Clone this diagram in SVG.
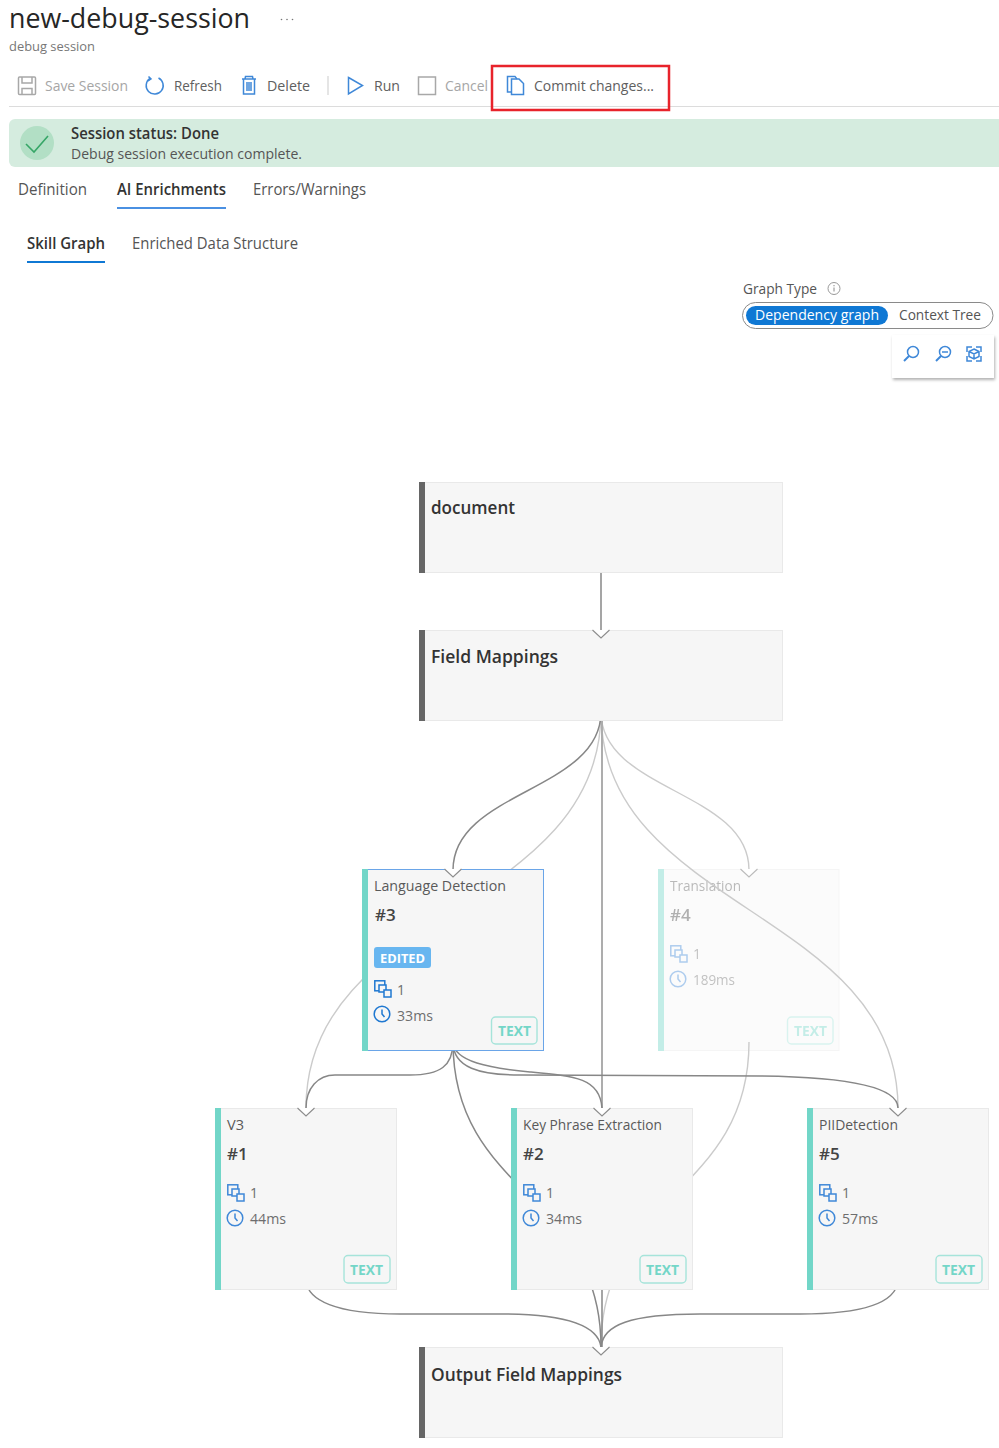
<svg xmlns="http://www.w3.org/2000/svg" width="999" height="1448" viewBox="0 0 999 1448">
<style>
text{font-family:"Open Sans","Noto Sans","Liberation Sans",sans-serif;fill:#555}
.tb{font-size:14.5px;fill:#606060}
.dis{fill:#a6a6a6}
.sem{font-weight:600;fill:#333}
.big{font-size:18px;font-weight:600;fill:#333}
.name{font-size:15px;fill:#5a5a5a}
.num{font-size:17px;font-weight:600;fill:#444}
.stat{font-size:14px;fill:#6e6e6e}
.tag{font-size:14px;font-weight:700;fill:#74d6c8}
.box{fill:#f6f6f6;stroke:#e9e9e9;stroke-width:1}
.bar{fill:#72d6c8}
.dbar{fill:#666}
.tagbox{fill:none;stroke:#a6e4da;stroke-width:1.4}
.ic{fill:none;stroke:#3f88d8;stroke-width:1.5}
.icg{fill:none;stroke:#a8a8a8;stroke-width:1.5}
.dk{fill:none;stroke:#878787;stroke-width:1.500}
.lt{fill:none;stroke:#cbcbcb;stroke-width:1.400}
.arr{fill:#fff;stroke:#8c8c8c;stroke-width:1.1}
</style>
<defs>
<g id="copies"><rect x="0.8" y="0.8" width="10" height="10" fill="none"/><rect x="5" y="5" width="7" height="7" fill="#f6f6f6"/><rect x="10" y="10" width="7" height="7" fill="#f6f6f6"/></g>
<g id="clock"><circle cx="8" cy="8" r="7.8" fill="none"/><path d="M8 3.5V8L10.5 11" fill="none"/></g>
<filter id="sh" x="-10%" y="-10%" width="120%" height="130%"><feDropShadow dx="1" dy="2" stdDeviation="1.5" flood-color="#000" flood-opacity=".3"/></filter>
<path id="ah" d="M-8.5 0L0 8L8.5 0"/>
</defs>
<rect width="999" height="1448" fill="#fff"/>

<g id="header">
<text x="9" y="28" font-size="27" style="fill:#262626" textLength="241" lengthAdjust="spacingAndGlyphs">new-debug-session</text>
<text x="9" y="51" font-size="13" style="fill:#777" textLength="86" lengthAdjust="spacingAndGlyphs">debug session</text>
<circle cx="281.500" cy="19.500" r=".8" fill="#777"/><circle cx="287" cy="19.500" r=".8" fill="#777"/><circle cx="292.500" cy="19.500" r=".8" fill="#777"/>
</g>

<g id="toolbar">
<g class="icg"><rect x="18.500" y="77" width="17" height="17.500" rx="1"/><path d="M22 77v6h10v-6M22 94.500v-6h10v6"/></g>
<text class="tb dis" x="45" y="91" textLength="83" lengthAdjust="spacingAndGlyphs">Save Session</text>
<g class="ic"><path d="M150 78.500A8.500 8.500 0 1 0 158.500 78"/><path d="M148.500 76.500L151 79L148 81"/></g>
<text class="tb" x="174" y="91" textLength="48" lengthAdjust="spacingAndGlyphs">Refresh</text>
<g class="ic"><path d="M242 79h14M245 79l.5-2.500h7l.5 2.500M243.500 79V94h11V79M247 82v9M249 82v9M251 82v9"/></g>
<text class="tb" x="267" y="91" textLength="43" lengthAdjust="spacingAndGlyphs">Delete</text>
<path d="M328 76V95" stroke="#ddd" stroke-width="1.5"/>
<path class="ic" d="M348.500 77.500L362.500 85.500L348.500 94Z"/>
<text class="tb" x="374" y="91" textLength="26" lengthAdjust="spacingAndGlyphs">Run</text>
<rect class="icg" x="418.500" y="77" width="17" height="17.500"/>
<text class="tb dis" x="445" y="91" textLength="43" lengthAdjust="spacingAndGlyphs">Cancel</text>
<g class="ic"><path d="M512 92H507.500V76.500H515L517 79"/><path d="M511.500 79H519L523.500 83.500V94.500H511.500Z"/></g>
<text class="tb" x="534" y="91" textLength="120" lengthAdjust="spacingAndGlyphs">Commit changes...</text>
<path d="M9 106.500H999" stroke="#dcdcdc" stroke-width="1"/>
<rect x="492" y="66" width="177" height="44" fill="none" stroke="#e8232b" stroke-width="2.500"/>
</g>

<g id="status">
<path d="M15 119H999V167H15A6 6 0 0 1 9 161V125A6 6 0 0 1 15 119Z" fill="#d5ecdf"/>
<circle cx="37" cy="143" r="17" fill="#b2dfc5"/>
<path d="M26 144L34 152L48 136" fill="none" stroke="#36a667" stroke-width="1.600"/>
<text class="sem" x="71" y="139" font-size="15.500" textLength="148" lengthAdjust="spacingAndGlyphs">Session status: Done</text>
<text x="71" y="159" font-size="15" textLength="231" lengthAdjust="spacingAndGlyphs">Debug session execution complete.</text>
</g>

<g id="tabs">
<text x="18" y="195" font-size="16" textLength="69" lengthAdjust="spacingAndGlyphs">Definition</text>
<text class="sem" x="117" y="195" font-size="16" textLength="109" lengthAdjust="spacingAndGlyphs">AI Enrichments</text>
<rect x="117" y="207" width="109" height="2" fill="#4a90e2"/>
<text x="253" y="195" font-size="16" textLength="113" lengthAdjust="spacingAndGlyphs">Errors/Warnings</text>
<text class="sem" x="27" y="249" font-size="16" textLength="78" lengthAdjust="spacingAndGlyphs">Skill Graph</text>
<rect x="27" y="261" width="78" height="2" fill="#0f78d4"/>
<text x="132" y="249" font-size="16" textLength="166" lengthAdjust="spacingAndGlyphs">Enriched Data Structure</text>
</g>

<g id="graph-controls">
<text x="743" y="294" font-size="15" textLength="74" lengthAdjust="spacingAndGlyphs">Graph Type</text>
<circle cx="834" cy="288.500" r="6" fill="none" stroke="#999" stroke-width="1"/><path d="M834 287.500v4M834 285v1.300" stroke="#888" stroke-width="1"/>
<rect x="742.500" y="302.500" width="250.500" height="26" rx="13" fill="#fff" stroke="#8a8a8a" stroke-width="1"/>
<rect x="746" y="306" width="142" height="19" rx="9.500" fill="#0f78d4"/>
<text x="755" y="320" font-size="15" style="fill:#fff" textLength="124" lengthAdjust="spacingAndGlyphs">Dependency graph</text>
<text x="899" y="320" font-size="15" textLength="82" lengthAdjust="spacingAndGlyphs">Context Tree</text>
<rect x="892" y="335" width="102" height="43" fill="#fff" filter="url(#sh)"/>
<g class="ic"><circle cx="913" cy="352" r="5.500"/><path d="M909 356L904 361" stroke-width="2"/><circle cx="945" cy="352" r="5.500"/><path d="M941 356L936 361" stroke-width="2"/><path d="M942 352h6"/><path d="M967 352v-5h5M976 347h5v5M981 356v5h-5M972 361h-5v-5"/><path d="M974 349l5 2.500v5l-5 2.500l-5-2.500v-5ZM969 351.500l5 2.500l5-2.500M974 354v5"/></g>
</g>

<g id="node-translation" opacity=".42">
<rect class="box" x="658.500" y="869.500" width="180.500" height="181"/><rect class="bar" x="658" y="869" width="6" height="182"/>
<text class="name" x="670" y="891" textLength="71" lengthAdjust="spacingAndGlyphs">Translation</text>
<text class="num" x="670" y="921">#4</text>
<use href="#copies" x="670" y="945" class="ic"/>
<text class="stat" x="693" y="959">1</text>
<use href="#clock" x="670" y="971" class="ic"/>
<text class="stat" x="693" y="985" textLength="42" lengthAdjust="spacingAndGlyphs">189ms</text>
<rect class="tagbox" x="787.500" y="1017" width="45.500" height="27" rx="4"/>
<text class="tag" x="794" y="1036" textLength="33" lengthAdjust="spacingAndGlyphs">TEXT</text>
</g>

<g id="connectors">
<path class="lt" d="M601 712C601 910 306 910 306 1108"/>
<path class="lt" d="M601 712C601 791 749 791 749 870"/>
<path class="lt" d="M601 712C601 910 898 910 898 1108"/>
<path class="lt" d="M749 1042C749 1194.500 601 1194.500 601 1347"/>
<path d="M602 712V1108" fill="none" stroke="#adadad" stroke-width="2"/>
<path class="dk" d="M601 712C601 791 453 791 453 870"/>
<path class="dk" d="M601 573V630"/>
<path class="dk" d="M453 1042C453 1066 440 1075 410 1075L335 1075C318 1075 306 1088 306 1108"/>
<path class="dk" d="M453 1042C454 1062 490 1068 530 1072C575 1076 600 1078 602 1108"/>
<path class="dk" d="M453 1042C453 1068 480 1075 520 1075L760 1076C840 1077 898 1085 898 1108"/>
<path class="dk" d="M453 1042C453 1194.500 601 1194.500 601 1347"/>
<path class="dk" d="M306 1281C308 1300 335 1314 400 1314L500 1314C565 1314 598 1325 601 1347"/>
<path class="dk" d="M602 1281V1347"/>
<path class="dk" d="M898 1281C896 1300 870 1314 800 1314L700 1314C630 1314 603 1325 601 1347"/>
</g>

<g id="node-document">
<rect class="box" x="419.500" y="482.500" width="363" height="90"/><rect class="dbar" x="419" y="482" width="6" height="91"/>
<text class="big" x="431" y="514" textLength="84" lengthAdjust="spacingAndGlyphs">document</text>
</g>
<g id="node-field-mappings">
<rect class="box" x="419.500" y="630.500" width="363" height="90"/><rect class="dbar" x="419" y="630" width="6" height="91"/>
<text class="big" x="431" y="663" textLength="127" lengthAdjust="spacingAndGlyphs">Field Mappings</text>
</g>
<g id="node-language-detection">
<rect x="362.500" y="869.500" width="181" height="181" fill="#f6f6f6" stroke="#6aa5e8" stroke-width="1"/><rect class="bar" x="362" y="869" width="6" height="182"/>
<text class="name" x="374" y="891" textLength="132" lengthAdjust="spacingAndGlyphs">Language Detection</text>
<text class="num" x="375" y="921">#3</text>
<rect x="374" y="947" width="57" height="21" rx="3" fill="#68b6f0"/>
<text x="380" y="963" font-size="13" font-weight="700" style="fill:#fff" textLength="45" lengthAdjust="spacingAndGlyphs">EDITED</text>
<use href="#copies" x="374" y="980" class="ic" style="stroke:#1f78d1"/>
<text class="stat" x="397" y="995">1</text>
<use href="#clock" x="374" y="1006" class="ic" style="stroke:#1f78d1"/>
<text class="stat" x="397" y="1021" textLength="36" lengthAdjust="spacingAndGlyphs">33ms</text>
<rect class="tagbox" x="491.500" y="1017" width="45.500" height="27" rx="4"/>
<text class="tag" x="498" y="1036" textLength="33" lengthAdjust="spacingAndGlyphs">TEXT</text>
</g>
<g id="node-v3">
<rect class="box" x="215.500" y="1108.500" width="181" height="181"/><rect class="bar" x="215" y="1108" width="6" height="182"/>
<text class="name" x="227" y="1130" textLength="17" lengthAdjust="spacingAndGlyphs">V3</text>
<text class="num" x="227" y="1160">#1</text>
<use href="#copies" x="227" y="1184" class="ic"/>
<text class="stat" x="250" y="1198">1</text>
<use href="#clock" x="227" y="1210" class="ic"/>
<text class="stat" x="250" y="1224" textLength="36" lengthAdjust="spacingAndGlyphs">44ms</text>
<rect class="tagbox" x="344" y="1255.500" width="46" height="27.500" rx="4"/>
<text class="tag" x="350" y="1275" textLength="33" lengthAdjust="spacingAndGlyphs">TEXT</text>
</g>
<g id="node-key-phrase-extraction">
<rect class="box" x="511.500" y="1108.500" width="181" height="181"/><rect class="bar" x="511" y="1108" width="6" height="182"/>
<text class="name" x="523" y="1130" textLength="139" lengthAdjust="spacingAndGlyphs">Key Phrase Extraction</text>
<text class="num" x="523" y="1160">#2</text>
<use href="#copies" x="523" y="1184" class="ic"/>
<text class="stat" x="546" y="1198">1</text>
<use href="#clock" x="523" y="1210" class="ic"/>
<text class="stat" x="546" y="1224" textLength="36" lengthAdjust="spacingAndGlyphs">34ms</text>
<rect class="tagbox" x="640" y="1255.500" width="46" height="27.500" rx="4"/>
<text class="tag" x="646" y="1275" textLength="33" lengthAdjust="spacingAndGlyphs">TEXT</text>
</g>
<g id="node-pii-detection">
<rect class="box" x="807.500" y="1108.500" width="181" height="181"/><rect class="bar" x="807" y="1108" width="6" height="182"/>
<text class="name" x="819" y="1130" textLength="79" lengthAdjust="spacingAndGlyphs">PIIDetection</text>
<text class="num" x="819" y="1160">#5</text>
<use href="#copies" x="819" y="1184" class="ic"/>
<text class="stat" x="842" y="1198">1</text>
<use href="#clock" x="819" y="1210" class="ic"/>
<text class="stat" x="842" y="1224" textLength="36" lengthAdjust="spacingAndGlyphs">57ms</text>
<rect class="tagbox" x="936" y="1255.500" width="46" height="27.500" rx="4"/>
<text class="tag" x="942" y="1275" textLength="33" lengthAdjust="spacingAndGlyphs">TEXT</text>
</g>
<g id="node-output-field-mappings">
<rect class="box" x="419.500" y="1347.500" width="363" height="90"/><rect class="dbar" x="419" y="1347" width="6" height="91"/>
<text class="big" x="431" y="1381" textLength="191" lengthAdjust="spacingAndGlyphs">Output Field Mappings</text>
</g>

<g id="arrowheads" class="arr">
<use href="#ah" x="601" y="630"/>
<use href="#ah" x="453" y="869"/>
<use href="#ah" x="749" y="869" style="stroke:#bbb"/>
<use href="#ah" x="306" y="1108"/>
<use href="#ah" x="602" y="1108"/>
<use href="#ah" x="898" y="1108"/>
<use href="#ah" x="601" y="1347"/>
</g>
</svg>
